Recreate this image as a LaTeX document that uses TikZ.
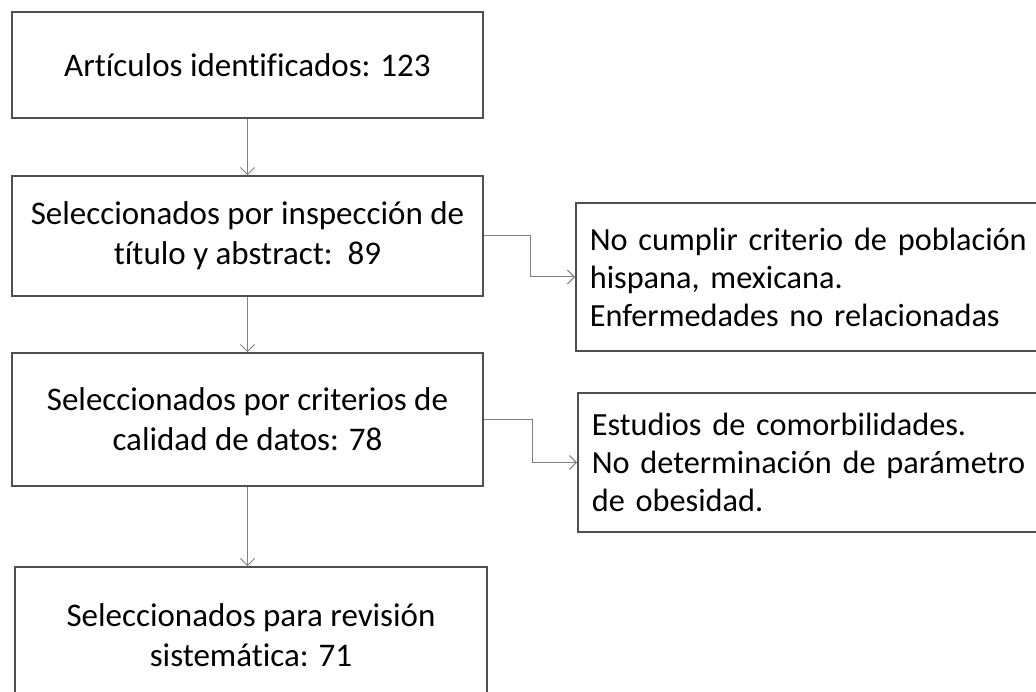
\documentclass[tikz,border=0pt]{standalone}
\usepackage{fontspec}
\setmainfont{Carlito}[Ligatures=NoCommon]
\usetikzlibrary{arrows.meta}
\definecolor{boxgray}{HTML}{505050}
\definecolor{arrowgray}{HTML}{808080}

\begin{document}
\begin{tikzpicture}[x=1pt,y=-1pt,
    box/.style={draw=boxgray, line width=1.6pt, minimum width=471pt, align=center,
        inner sep=0pt, font=\fontsize{33}{40}\selectfont},
    sidebox/.style={draw=boxgray, line width=1.6pt, anchor=west, align=left,
        text width=470pt, inner xsep=14pt, inner ysep=0pt, font=\fontsize{32.3}{38}\selectfont},
    flow/.style={draw=arrowgray, line width=1pt, -{Straight Barb[length=7pt,width=14pt]}}]
    \useasboundingbox (0,0) rectangle (1036,692);
    \clip (0,0) rectangle (1036,692);

    % draw main boxes
    \node[box, minimum height=106pt] (ident) at (247.5,65) {Artículos identificados: 123};
    \node[box, minimum height=120pt] (titulo) at (247.5,236) {Seleccionados por inspección de\\título y abstract:\ \ 89};
    \node[box, minimum height=133pt] (calidad) at (247.5,419.5) {Seleccionados por criterios de\\calidad de datos: 78};
    \node[box, minimum width=472pt, minimum height=136pt] (revision) at (251,635) {Seleccionados para revisión\\sistemática: 71};

    % draw exclusion boxes
    \node[sidebox, minimum height=148pt] (excl1) at (575,277) {No cumplir criterio de población\\hispana, mexicana.\\Enfermedades no relacionadas};
    \node[sidebox, minimum height=139pt] (excl2) at (577,462.5) {Estudios de comorbilidades.\\No determinación de parámetro\\de obesidad.};

    % draw arrows
    \draw[flow] (ident) -- (titulo);
    \draw[flow] (titulo) -- (calidad);
    \draw[flow] (calidad.south) -- (calidad.south |- revision.north);
    \draw[flow] (titulo.east) -- ++(47,0) |- (excl1.west);
    \draw[flow] (calidad.east) -- ++(49,0) |- (excl2.west);
\end{tikzpicture}
\end{document}
